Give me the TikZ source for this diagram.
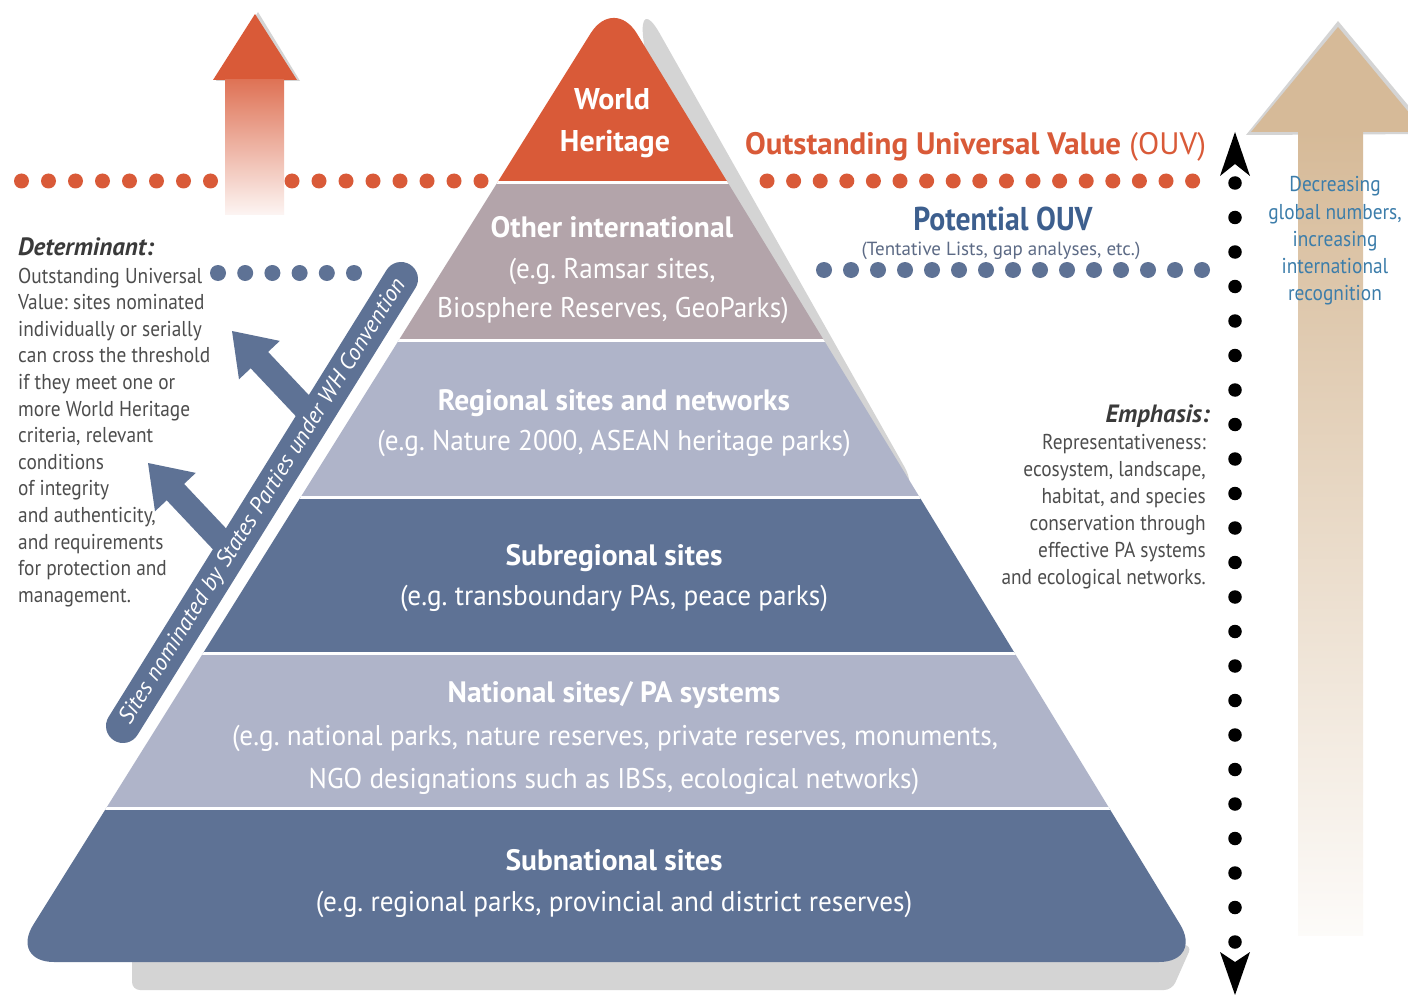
\documentclass[tikz,border=0pt]{standalone}
\usepackage{fontspec}
\setmainfont{PT Sans}
\newfontfamily\ms[FakeStretch=0.9]{PT Sans}
\newfontfamily\msb[FakeStretch=0.955]{PT Sans}
\usetikzlibrary{calc}
\definecolor{wh}{HTML}{D95A38}
\definecolor{mauve}{HTML}{B3A4AA}
\definecolor{lblue}{HTML}{AFB4C9}
\definecolor{dblue}{HTML}{5E7295}
\definecolor{shad}{HTML}{D4D4D4}
\definecolor{tanc}{HTML}{D6BA98}
\definecolor{potblue}{HTML}{3D5F8E}
\definecolor{tentc}{HTML}{5C6A85}
\definecolor{decblue}{HTML}{3C7DAA}
\definecolor{dgray}{HTML}{3A3A3A}
\definecolor{tgray}{HTML}{4D4D4D}
\tikzset{
 odots/.style={draw=wh, line width=15pt, line cap=round, dash pattern=on 0pt off #1},
 bdots/.style={draw=dblue, line width=16pt, line cap=round, dash pattern=on 0pt off #1},
 kdots/.style={draw=black, line width=13.5pt, line cap=round, dash pattern=on 0pt off #1},
 whtxt/.style={anchor=base, text=white, inner sep=0pt, font=\rmfamily\bfseries\fontsize{30}{36}\selectfont},
 btitle/.style={anchor=base, text=white, inner sep=0pt, font=\rmfamily\bfseries\fontsize{29.5}{34}\selectfont},
 bsub/.style={anchor=base, text=white, inner sep=0pt, font=\msb\fontsize{28.5}{34}\selectfont},
 sidetxt/.style={inner sep=0pt, text=tgray, font=\ms\fontsize{21.5}{26}\selectfont},
 sidehead/.style={inner sep=0pt, text=dgray, font=\rmfamily\bfseries\itshape\fontsize{25}{28}\selectfont},
 dectxt/.style={anchor=base, inner sep=0pt, text=decblue, font=\ms\fontsize{21.5}{26}\selectfont},
}
\begin{document}
\frenchspacing
\begin{tikzpicture}[x=1pt,y=-1pt]
\useasboundingbox (0,0) rectangle (1408,995);
\fill[white] (0,0) rectangle (1408,995);

% shadows of the pyramid
\fill[shad, rounded corners=44pt] (638,-5) -- (926,505) -- (700,505) -- cycle;
\fill[shad, rounded corners=8pt] (132,945) -- (132,990) -- (1172,990) -- (1192,945) -- cycle;

% pyramid
\coordinate (apex) at (614,-4);
\coordinate (bl) at (10,962);
\coordinate (br) at (1203,962);
\begin{scope}
\clip[rounded corners=44pt] ($(apex)!0.5!(bl)$) -- (apex) -- (br) -- (bl) -- cycle;
\fill[wh] (0,-10) rectangle (1408,183);
\fill[mauve] (0,183) rectangle (1408,340);
\fill[lblue] (0,340) rectangle (1408,497);
\fill[dblue] (0,497) rectangle (1408,653);
\fill[lblue] (0,653) rectangle (1408,808);
\fill[dblue] (0,808) rectangle (1408,975);
\foreach \yy in {183,340,497,653,808} \draw[white, line width=3pt] (0,\yy) -- (1408,\yy);
\end{scope}

% band texts
\node[whtxt] (wh1) at (612,110) {World};
\node[whtxt] (wh2) at (615,152) {Heritage};
\node[btitle] (oi1) at (612,237) {Other international};
\node[bsub] (oi2) at (612,278) {(e.g. Ramsar sites,};
\node[bsub] (oi3) at (613,317) {Biosphere Reserves, GeoParks)};
\node[btitle] (rg1) at (614,410) {Regional sites and networks};
\node[bsub] (rg2) at (614,450) {(e.g. Nature 2000, ASEAN heritage parks)};
\node[btitle] (sr1) at (614,565) {Subregional sites};
\node[bsub] (sr2) at (614,605) {(e.g. transboundary PAs, peace parks)};
\node[btitle] (na1) at (614,702) {National sites/ PA systems};
\node[bsub] (na2) at (615,745) {(e.g. national parks, nature reserves, private reserves, monuments,};
\node[bsub] (na3) at (614,788) {NGO designations such as IBSs, ecological networks)};
\node[btitle] (sn1) at (614,870) {Subnational sites};
\node[bsub] (sn2) at (614,911) {(e.g. regional parks, provincial and district reserves)};

% orange arrow
\fill[shad] (258,12) -- (300,81) -- (216,81) -- cycle;
\fill[wh] (255,14) -- (297,80) -- (213,80) -- cycle;
\shade[top color=wh!85!white, bottom color=wh!6!white] (225,80) rectangle (284,215);

% tan arrow
\fill[shad] (1338,21) -- (1432,134) -- (1246,135) -- cycle;
\fill[tanc] (1338,27) -- (1425,132) -- (1251,132) -- cycle;
\shade[top color=tanc, bottom color=tanc!6!white] (1298,131) rectangle (1363,935);

% orange dotted line (OUV threshold)
\coordinate (o1) at (21.5,181); \coordinate (o2) at (211,181);
\coordinate (o3) at (292,181); \coordinate (o4) at (482,181);
\coordinate (o5) at (767,181); \coordinate (o6) at (1193.5,181);
\draw[odots=27pt] (o1) -- (o2);
\draw[odots=27pt] (o3) -- (o4);
\draw[odots=26.6pt] (o5) -- (o6);

% blue dotted lines (potential OUV)
\coordinate (b1) at (218,273); \coordinate (b2) at (355,273);
\coordinate (b3) at (824,270); \coordinate (b4) at (1203,270);
\draw[bdots=27.2pt] (b1) -- (b2);
\draw[bdots=27pt] (b3) -- (b4);

% black vertical double arrow
\coordinate (vt) at (1235,183); \coordinate (vb) at (1235,943);
\draw[kdots=34.5pt] (vt) -- (vb);
\fill ($(vt)+(0,-51)$) -- ($(vt)+(15,-7)$) -- ($(vt)+(0,-19)$) -- ($(vt)+(-15,-7)$) -- cycle;
\fill ($(vb)+(0,52)$) -- ($(vb)+(15,9)$) -- ($(vb)+(0,19)$) -- ($(vb)+(-15,9)$) -- cycle;

% OUV labels
\node[anchor=base west, inner sep=0pt, text=wh, font=\rmfamily\fontsize{31}{36}\selectfont] (ouv) at (745,155) {{\bfseries Outstanding Universal Value} (OUV)};
\node[anchor=base, inner sep=0pt, text=potblue, font=\ms\bfseries\fontsize{33}{38}\selectfont] (pouv) at (1003,230) {Potential OUV};
\node[anchor=base, inner sep=0pt, text=tentc, font=\rmfamily\fontsize{19}{22}\selectfont] (tent) at (1001,255) {(Tentative Lists, gap analyses, etc.)};

% decreasing text
\foreach \t/\yy [count=\i] in {Decreasing/192, {global numbers,}/220, increasing/247, international/273, recognition/300}
  \node[dectxt] (dec\i) at (1335,\yy) {\t};

% blue arrows (under the capsule)
\fill[dblue] (232,331) -- (279.8,340.9) -- (268.1,351.9) -- (316.2,402.9) -- (298.8,419.3) -- (250.7,368.3) -- (239.0,379.3) -- cycle;
\fill[dblue] (148,463) -- (195.8,472.9) -- (184.1,483.9) -- (232.2,534.9) -- (214.8,551.3) -- (166.7,500.3) -- (155.0,511.3) -- cycle;

% capsule
\coordinate (cap1) at (123,726); \coordinate (cap2) at (401,279);
\draw[dblue, line width=34pt, line cap=round] (cap1) -- (cap2);
\node[rotate=58, inner sep=0pt, text=white, font=\rmfamily\itshape\fontsize{23}{26}\selectfont] (captxt) at ($(cap1)!0.5!(cap2)+(1,-1)$) {Sites nominated by States Parties under WH Convention};

% determinant block
\node[sidehead, anchor=base west] (dethead) at (18,255) {Determinant:};
\foreach \t [count=\i] in {Outstanding Universal, Value: sites nominated, individually or serially, can cross the threshold, if they meet one or, more World Heritage, {criteria, relevant}, conditions, of integrity, {and authenticity,}, and requirements, for protection and, management.}
  \node[sidetxt, anchor=base west] (det\i) at (18,{283+26.6*(\i-1)}) {\t};

% emphasis block
\node[sidehead, anchor=base east] (emphead) at (1210,422) {Emphasis:};
\foreach \t [count=\i] in {Representativeness:, {ecosystem, landscape,}, {habitat, and species}, conservation through, effective PA systems, and ecological networks.}
  \node[sidetxt, anchor=base east] (emp\i) at (1206,{449+27*(\i-1)}) {\t};
\end{tikzpicture}
\end{document}
